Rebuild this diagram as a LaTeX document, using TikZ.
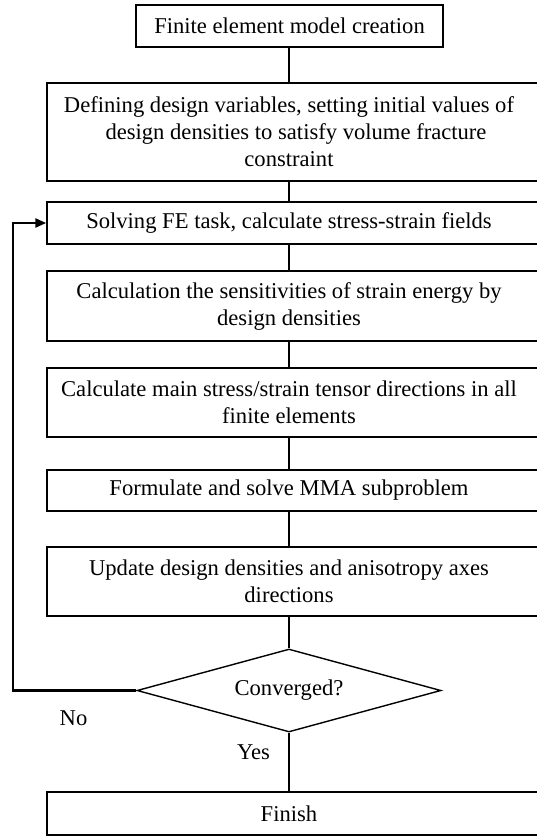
\documentclass[tikz,border=0pt]{standalone}
\usepackage{fontspec}
\setmainfont{Liberation Serif}
\usetikzlibrary{shapes.geometric,arrows.meta}
\newcommand{\rp}{\hspace*{14pt}}
\begin{document}
\begin{tikzpicture}[x=1pt,y=-1pt,
  box/.style={draw,line width=1.5pt,rectangle,inner sep=0pt,align=center,
    font=\fontsize{22.6}{27}\selectfont},
  wide/.style={box,minimum width=498pt},
  link/.style={line width=1.4pt},
  loopline/.style={line width=2.5pt,-{Triangle[length=11pt,width=9pt]}},
  lbl/.style={inner sep=0pt,font=\fontsize{22.6}{27}\selectfont}]
\useasboundingbox (0,0) rectangle (536,836);
\coordinate (ax) at (289,0);
\node[box,minimum width=307pt,minimum height=42pt] (b1) at (289.5,26) {Finite element model creation};
\node[wide,minimum height=98pt] (b2) at (296,132) {Defining design variables, setting initial values of\rp\\ design densities to satisfy volume fracture\rp\\ constraint\rp};
\node[wide,minimum height=42pt] (b3) at (296,223) {Solving FE task, calculate stress-strain fields\rp};
\node[wide,minimum height=70pt] (b4) at (296,306) {Calculation the sensitivities of strain energy by\rp\\ design densities\rp};
\node[wide,minimum height=69pt] (b5) at (296,402.5) {Calculate main stress/strain tensor directions in all\rp\\ finite elements\rp};
\node[wide,minimum height=41pt] (b6) at (296,490.5) {Formulate and solve MMA subproblem\rp};
\node[wide,minimum height=69pt] (b7) at (296,581.5) {Update design densities and anisotropy axes\rp\\ directions\rp};
\node[draw,line width=1.4pt,diamond,aspect=3.66,inner sep=0pt,minimum width=304pt,minimum height=83pt,
  font=\fontsize{22.6}{27}\selectfont] (d) at (289,690.5) {Converged?};
\node[wide,minimum height=43pt] (fin) at (296,813.5) {Finish\rp};
\coordinate (c1) at (13,690.5);
\coordinate (c2) at (13,223);
\draw[link] (b1.south -| ax) -- (b2.north -| ax);
\draw[link] (b2.south -| ax) -- (b3.north -| ax);
\draw[link] (b3.south -| ax) -- (b4.north -| ax);
\draw[link] (b4.south -| ax) -- (b5.north -| ax);
\draw[link] (b5.south -| ax) -- (b6.north -| ax);
\draw[link] (b6.south -| ax) -- (b7.north -| ax);
\draw[link] (b7.south -| ax) -- (d.north);
\draw[link] (d.south) -- (fin.north -| d.south);
\draw[loopline] (d.west) -- (c1) -- (c2) -- (b3.west);
\node[lbl] (no) at (73.5,718) {No};
\node[lbl] (yes) at (253.5,752) {Yes};
\end{tikzpicture}
\end{document}
